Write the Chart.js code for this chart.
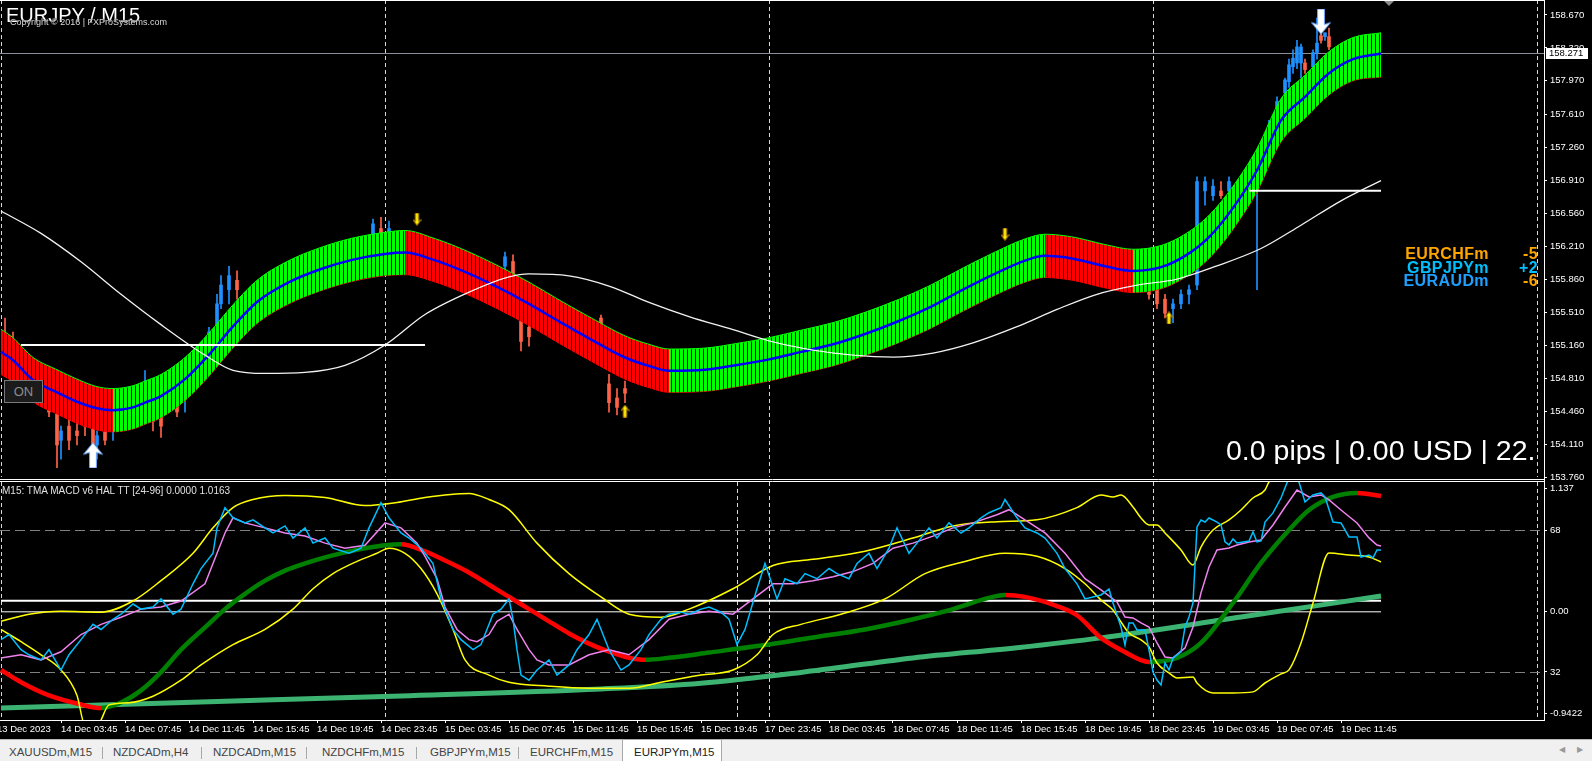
<!DOCTYPE html>
<html>
<head>
<meta charset="utf-8">
<title>EURJPY / M15</title>
<script src="https://cdn.jsdelivr.net/npm/chart.js"></script>
<style>
html, body { margin: 0; padding: 0; background: #000; }
body { width: 1592px; height: 761px; position: relative; overflow: hidden; font-family: "Liberation Sans", Arial, sans-serif; }
canvas { position: absolute; left: 0; }
#top { top: 0; width: 1592px; height: 482px; }
#bot { top: 482px; width: 1592px; height: 255px; }
.txt { position: absolute; white-space: nowrap; }
#title { left: 6px; top: 5px; font-size: 20px; line-height: 20px; color: #fff; }
#copy { left: 10px; top: 18px; font-size: 9px; line-height: 9px; color: #d8d8d8; text-shadow: 0 0 1px #000, 0 0 1px #000; }
#onbtn { left: 4px; top: 380px; width: 37px; height: 21px; border: 1px solid #7a7a7a; background: #1b1b1b; color: #8c8c8c; font-size: 13px; line-height: 21px; text-align: center; }
#pips { left: 1226px; top: 436px; width: 312px; overflow: hidden; font-size: 28.5px; line-height: 28px; color: #fff; }
.lg { position: absolute; white-space: nowrap; font-weight: bold; font-size: 16px; line-height: 15px; letter-spacing: 0.4px; }
#pane2 { left: 2px; top: 486px; font-size: 10px; line-height: 10px; color: #e0e0e0; }
#tabs { position: absolute; left: 0; top: 739px; width: 1592px; height: 22px; background: #f0f0f0; border-top: 1px solid #b8b8b8; }
.tab { position: absolute; top: 0; height: 22px; line-height: 24px; font-size: 11.5px; color: #444; box-sizing: border-box; white-space: nowrap; }
.tab.on { background: #fff; border: 1px solid #a8a8a8; border-bottom: none; top: -1px; height: 23px; color: #222; }
.sep { position: absolute; top: 7px; width: 1px; height: 12px; background: #a8a8a8; }
.scr { position: absolute; top: 5px; font-size: 8px; color: #999; }
</style>
</head>
<body>
<canvas id="top" width="1592" height="482"></canvas>
<canvas id="bot" width="1592" height="255"></canvas>

<div class="txt" id="title">EURJPY / M15</div>
<div class="txt" id="copy">Copyright © 2016 | FXProSystems.com</div>
<div class="txt" id="onbtn">ON</div>
<div class="txt" id="pips">0.0 pips | 0.00 USD | 22.</div>
<div class="lg" style="right:103px; top:246px; color:#ffa500">EURCHFm</div>
<div class="lg" style="right:54px; top:246px; color:#ffa500">-5</div>
<div class="lg" style="right:103px; top:260px; color:#00bfff">GBPJPYm</div>
<div class="lg" style="right:54px; top:260px; color:#00bfff">+2</div>
<div class="lg" style="right:103px; top:273px; color:#1ea0ff">EURAUDm</div>
<div class="lg" style="right:54px; top:273px; color:#ffa500">-6</div>
<div class="txt" id="pane2">M15: TMA MACD v6 HAL TT [24-96] 0.0000 1.0163</div>

<div id="tabs">
  <div class="tab" style="left:0; width:102px; padding-left:9px">XAUUSDm,M15</div>
  <div class="sep" style="left:102px"></div>
  <div class="tab" style="left:102px; width:99px; padding-left:11px">NZDCADm,H4</div>
  <div class="sep" style="left:201px"></div>
  <div class="tab" style="left:201px; width:105px; padding-left:12px">NZDCADm,M15</div>
  <div class="sep" style="left:306px"></div>
  <div class="tab" style="left:306px; width:110px; padding-left:16px">NZDCHFm,M15</div>
  <div class="sep" style="left:416px"></div>
  <div class="tab" style="left:416px; width:102px; padding-left:14px">GBPJPYm,M15</div>
  <div class="sep" style="left:518px"></div>
  <div class="tab" style="left:518px; width:104px; padding-left:12px">EURCHFm,M15</div>
  <div class="tab on" style="left:622px; width:100px; padding-left:11px">EURJPYm,M15</div>
  <div class="scr" style="left:1559px">◀</div>
  <div class="scr" style="left:1577px">▶</div>
</div>

<script>
// ---------- time axis (bar index, 4 px per M15 bar) ----------
var timeBars = [-1, 15, 31, 47, 63, 79, 95, 111, 127, 143, 159, 175, 191, 207, 223, 239, 255, 271, 287, 303, 319, 335]
var timeLabels = ['13 Dec 2023', '14 Dec 03:45', '14 Dec 07:45', '14 Dec 11:45', '14 Dec 15:45', '14 Dec 19:45',
    '14 Dec 23:45', '15 Dec 03:45', '15 Dec 07:45', '15 Dec 11:45', '15 Dec 15:45', '15 Dec 19:45',
    '17 Dec 23:45', '18 Dec 03:45', '18 Dec 07:45', '18 Dec 11:45', '18 Dec 15:45', '18 Dec 19:45',
    '18 Dec 23:45', '19 Dec 03:45', '19 Dec 07:45', '19 Dec 11:45']
var daySeps = [0, 96, 192, 288, 384]
var lowerSeps = [0, 96, 184, 192, 288, 384]
var shiftBar = 347

// ---------- price pane ----------
var priceTicks = [158.670, 158.320, 157.970, 157.610, 157.260, 156.910, 156.560, 156.210, 155.860, 155.510, 155.160, 154.810, 154.460, 154.110, 153.760]
var lastPrice = 158.271

var tmaBars = [0, 3, 8, 14, 19, 24, 28, 33, 36, 40, 46, 52, 58, 64, 72, 80, 88, 96, 101, 108, 116, 124, 132, 140, 148, 156, 162, 167, 176, 184, 192, 200, 208, 216, 224, 232, 240, 248, 256, 261, 268, 276, 283, 290, 296, 302, 308, 314, 320, 326, 332, 338, 345]
var tmaMid = [155.09, 155.00, 154.79, 154.66, 154.56, 154.49, 154.47, 154.50, 154.55, 154.62, 154.80, 155.06, 155.36, 155.62, 155.83, 155.97, 156.07, 156.13, 156.145, 156.07, 155.94, 155.78, 155.60, 155.40, 155.21, 155.03, 154.94, 154.89, 154.90, 154.95, 155.01, 155.09, 155.17, 155.28, 155.41, 155.56, 155.74, 155.91, 156.06, 156.11, 156.08, 156.00, 155.95, 155.99, 156.11, 156.31, 156.62, 157.02, 157.55, 157.80, 158.05, 158.20, 158.26]
var tmaUp = [155.33, 155.24, 155.03, 154.90, 154.80, 154.72, 154.70, 154.73, 154.78, 154.85, 155.03, 155.29, 155.59, 155.85, 156.06, 156.20, 156.30, 156.36, 156.38, 156.30, 156.17, 156.01, 155.83, 155.63, 155.44, 155.26, 155.17, 155.12, 155.13, 155.18, 155.24, 155.32, 155.40, 155.51, 155.64, 155.79, 155.97, 156.14, 156.29, 156.34, 156.31, 156.23, 156.18, 156.22, 156.34, 156.54, 156.85, 157.25, 157.78, 158.03, 158.28, 158.43, 158.48]
var tmaDn = [154.85, 154.77, 154.56, 154.43, 154.33, 154.26, 154.24, 154.27, 154.32, 154.39, 154.57, 154.83, 155.13, 155.39, 155.60, 155.74, 155.84, 155.90, 155.91, 155.84, 155.71, 155.55, 155.37, 155.17, 154.98, 154.80, 154.71, 154.66, 154.67, 154.72, 154.78, 154.86, 154.94, 155.05, 155.18, 155.33, 155.51, 155.68, 155.83, 155.88, 155.85, 155.77, 155.72, 155.76, 155.88, 156.08, 156.39, 156.79, 157.32, 157.57, 157.82, 157.97, 158.01]

var maBars = [0, 10, 20, 30, 40, 51, 58, 66, 76, 86, 96, 106, 117, 127, 132, 142, 152, 162, 172, 183, 193, 203, 213, 223, 233, 243, 254, 264, 274, 284, 294, 304, 315, 325, 335, 345]
var maVals = [156.587, 156.349, 156.047, 155.702, 155.379, 155.055, 154.894, 154.861, 154.872, 154.947, 155.163, 155.487, 155.724, 155.886, 155.918, 155.897, 155.789, 155.616, 155.465, 155.325, 155.195, 155.109, 155.055, 155.034, 155.077, 155.185, 155.357, 155.541, 155.702, 155.799, 155.864, 156.004, 156.188, 156.436, 156.695, 156.910]

var candleBar = [1, 3, 6, 9, 12, 14, 15, 17, 19, 21, 23, 24, 26, 28, 30, 36, 38, 40, 44, 46, 48, 50, 52, 54, 55, 57, 59, 93, 95, 97, 126, 128, 130, 132, 150, 152, 154, 156, 287, 289, 291, 293, 295, 297, 299, 301, 303, 305, 307, 314, 317, 319, 321, 322, 323, 324, 325, 326, 328, 329, 330, 331, 332]
var candleO = [155.20, 155.10, 154.95, 154.80, 154.65, 154.45, 154.15, 154.30, 154.25, 154.35, 154.29, 154.10, 154.25, 154.30, 154.35, 154.55, 154.50, 154.40, 154.55, 154.60, 154.75, 154.95, 155.10, 155.35, 155.60, 155.75, 155.85, 156.25, 156.40, 156.35, 156.00, 156.05, 155.60, 155.35, 155.45, 154.75, 154.60, 154.70, 155.85, 155.75, 155.65, 155.55, 155.60, 155.70, 155.80, 156.80, 156.75, 156.80, 156.80, 156.80, 157.30, 157.50, 157.84, 157.96, 158.12, 158.16, 158.16, 158.16, 158.12, 158.27, 158.45, 158.44, 158.44]
var candleH = [155.45, 155.30, 155.05, 154.90, 154.75, 154.55, 154.30, 154.45, 154.35, 154.45, 154.40, 154.25, 154.35, 154.45, 154.45, 154.89, 154.60, 154.55, 154.70, 154.75, 155.00, 155.15, 155.35, 155.70, 155.90, 156.00, 155.95, 156.50, 156.52, 156.48, 156.15, 156.12, 155.70, 155.45, 155.48, 154.85, 154.70, 154.78, 155.90, 155.80, 155.70, 155.65, 155.75, 155.80, 156.95, 156.95, 156.92, 156.90, 156.95, 156.90, 157.55, 157.80, 158.00, 158.20, 158.30, 158.40, 158.36, 158.20, 158.30, 158.64, 158.52, 158.48, 158.53]
var candleL = [155.00, 154.90, 154.70, 154.55, 154.40, 153.86, 153.95, 154.05, 154.10, 154.20, 153.92, 153.95, 154.10, 154.15, 154.25, 154.50, 154.25, 154.18, 154.40, 154.45, 154.70, 154.90, 155.05, 155.30, 155.55, 155.60, 155.65, 156.20, 156.30, 156.25, 155.90, 155.80, 155.10, 155.15, 155.20, 154.45, 154.42, 154.55, 155.65, 155.55, 155.45, 155.40, 155.55, 155.60, 155.75, 156.65, 156.70, 156.72, 156.75, 155.75, 157.25, 157.45, 157.80, 157.90, 158.05, 158.10, 158.00, 158.05, 158.10, 158.20, 158.37, 158.40, 158.30]
var candleC = [155.05, 154.95, 154.75, 154.60, 154.45, 154.10, 154.25, 154.15, 154.20, 154.30, 154.05, 154.20, 154.15, 154.40, 154.30, 154.75, 154.35, 154.30, 154.45, 154.70, 154.95, 155.10, 155.30, 155.60, 155.80, 155.90, 155.75, 156.45, 156.35, 156.40, 156.10, 155.85, 155.20, 155.25, 155.25, 154.55, 154.50, 154.65, 155.70, 155.60, 155.50, 155.60, 155.70, 155.75, 156.90, 156.90, 156.85, 156.75, 156.90, 156.85, 157.50, 157.75, 157.98, 158.14, 158.21, 158.33, 158.33, 158.09, 158.27, 158.37, 158.40, 158.48, 158.33]

var hlineFrom = [5, 312]
var hlineTo = [106, 345]
var hlinePrice = [155.163, 156.802]

var arrowBars = [23, 330, 104, 156, 251, 292]
var arrowPrices = [153.99, 158.60, 156.50, 154.46, 156.34, 155.45]
var arrowKinds = ['bigUp', 'bigDown', 'down', 'up', 'down', 'up']

// ---------- oscillator pane ----------
var oscTicks = [1.137, 0.756, 0, -0.556, -0.9422]
var oscTickLabels = ['1.137', '68', '0.00', '32', '-0.9422']
var oscDashed = [0.756, -0.556]
var levelBars = [0, 345]
var levelHigh = [0.103, 0.103]
var levelZero = [0, 0]

var cyanBars = [0, 2, 5, 7, 10, 12, 15, 17, 20, 23, 25, 28, 30, 33, 35, 38, 40, 43, 45, 48, 50, 53, 54, 56, 58, 61, 63, 66, 68, 71, 73, 76, 78, 81, 83, 87, 90, 92, 95, 97, 100, 102, 105, 108, 110, 113, 115, 118, 120, 123, 125, 127, 128, 129, 130, 132, 134, 137, 139, 142, 144, 147, 149, 152, 155, 157, 160, 162, 165, 167, 170, 172, 175, 177, 180, 182, 184, 186, 189, 191, 194, 196, 199, 201, 204, 207, 209, 212, 214, 217, 219, 222, 224, 227, 229, 232, 234, 237, 240, 242, 245, 247, 250, 251, 254, 256, 259, 261, 264, 266, 269, 271, 275, 277, 278, 280, 281, 282, 283, 284, 286, 287, 288, 289, 290, 291, 292, 293, 295, 296, 297, 298, 299, 300, 301, 302, 304, 305, 306, 307, 308, 309, 312, 313, 314, 315, 316, 318, 320, 322, 324, 326, 328, 330, 331, 333, 335, 337, 339, 340, 342, 343, 344, 345]
var cyanVals = [-0.257, -0.210, -0.350, -0.397, -0.444, -0.350, -0.538, -0.397, -0.257, -0.116, -0.163, -0.069, -0.022, 0.072, 0.025, 0.044, 0.119, -0.022, 0.025, 0.259, 0.400, 0.541, 0.776, 0.963, 0.869, 0.822, 0.850, 0.776, 0.729, 0.794, 0.682, 0.776, 0.635, 0.682, 0.588, 0.541, 0.588, 0.776, 1.010, 0.869, 0.729, 0.682, 0.588, 0.447, 0.119, -0.163, -0.257, -0.350, -0.303, -0.022, 0.025, 0.119, -0.069, -0.350, -0.585, -0.632, -0.538, -0.444, -0.585, -0.491, -0.350, -0.210, -0.069, -0.350, -0.538, -0.491, -0.350, -0.210, -0.069, -0.022, -0.003, -0.022, 0.025, 0.044, -0.003, -0.069, -0.303, -0.163, 0.213, 0.447, 0.119, 0.306, 0.259, 0.353, 0.306, 0.400, 0.353, 0.306, 0.447, 0.541, 0.400, 0.588, 0.776, 0.541, 0.635, 0.776, 0.682, 0.822, 0.729, 0.776, 0.869, 0.916, 0.963, 1.038, 0.869, 0.776, 0.729, 0.682, 0.541, 0.400, 0.259, 0.119, 0.156, 0.211, 0.082, -0.140, -0.306, -0.103, -0.103, -0.168, -0.168, -0.352, -0.556, -0.630, -0.676, -0.473, -0.537, -0.426, -0.371, -0.140, -0.048, 0.082, 0.785, 0.849, 0.830, 0.867, 0.830, 0.803, 0.646, 0.618, 0.673, 0.636, 0.655, 0.738, 0.646, 0.655, 0.830, 0.914, 1.052, 1.24, 1.26, 1.015, 1.080, 1.099, 1.062, 0.830, 0.821, 0.692, 0.692, 0.507, 0.525, 0.498, 0.572, 0.572]

var violetBars = [0, 5, 10, 15, 20, 25, 30, 35, 40, 45, 51, 53, 56, 58, 61, 66, 71, 76, 81, 86, 91, 96, 100, 104, 106, 109, 111, 114, 117, 119, 122, 124, 127, 129, 132, 134, 137, 142, 147, 152, 157, 162, 167, 172, 177, 183, 188, 193, 198, 203, 208, 213, 218, 223, 228, 233, 238, 243, 249, 252, 256, 261, 266, 271, 275, 279, 281, 283, 285, 287, 289, 291, 293, 296, 298, 300, 302, 304, 307, 309, 312, 315, 318, 321, 324, 327, 330, 332, 335, 339, 342, 344, 345]
var violetVals = [-0.426, -0.397, -0.444, -0.369, -0.210, -0.116, -0.050, 0.025, 0.044, 0.100, 0.259, 0.447, 0.729, 0.869, 0.822, 0.776, 0.729, 0.700, 0.635, 0.588, 0.616, 0.822, 0.776, 0.635, 0.513, 0.306, 0.044, -0.163, -0.257, -0.276, -0.210, -0.088, -0.022, -0.163, -0.350, -0.444, -0.491, -0.491, -0.397, -0.350, -0.397, -0.257, -0.069, -0.022, 0.006, -0.022, 0.119, 0.259, 0.259, 0.287, 0.325, 0.372, 0.447, 0.588, 0.635, 0.700, 0.776, 0.822, 0.897, 0.944, 0.850, 0.729, 0.541, 0.306, 0.202, 0.091, -0.048, -0.057, -0.103, -0.140, -0.288, -0.417, -0.426, -0.334, -0.140, 0.175, 0.415, 0.572, 0.590, 0.618, 0.646, 0.664, 0.803, 0.969, 1.126, 1.062, 1.080, 1.034, 0.941, 0.821, 0.683, 0.618, 0.608]

var bandUpBars = [0, 7, 15, 25, 33, 40, 48, 53, 58, 63, 71, 81, 91, 99, 106, 117, 122, 127, 134, 142, 150, 157, 165, 172, 183, 193, 203, 216, 228, 238, 249, 259, 269, 275, 278, 280, 283, 285, 287, 289, 291, 295, 298, 300, 303, 307, 310, 313, 316, 317, 325, 335, 345]
var bandUpVals = [-0.088, -0.022, 0.006, -0.003, 0.100, 0.288, 0.541, 0.776, 0.963, 1.038, 1.076, 1.057, 0.982, 1.010, 1.057, 1.094, 1.038, 0.944, 0.635, 0.353, 0.137, -0.022, -0.050, 0.025, 0.213, 0.428, 0.485, 0.560, 0.682, 0.794, 0.832, 0.850, 0.963, 1.080, 1.062, 1.080, 0.969, 0.867, 0.803, 0.803, 0.729, 0.572, 0.433, 0.599, 0.756, 0.849, 0.941, 1.052, 1.126, 1.200, 1.35, 1.42, 1.45]

var bandDnBars = [0, 5, 10, 15, 19, 21, 24, 27, 32, 38, 45, 50, 58, 66, 73, 78, 83, 89, 94, 97, 101, 105, 109, 113, 116, 122, 127, 137, 147, 157, 165, 175, 183, 189, 193, 200, 210, 221, 231, 241, 251, 259, 266, 271, 275, 278, 280, 282, 285, 287, 289, 292, 294, 298, 299, 303, 308, 313, 316, 320, 322, 325, 328, 332, 337, 342, 345]
var bandDnVals = [-0.163, -0.276, -0.397, -0.538, -0.773, -1.05, -1.05, -0.86, -0.84, -0.78, -0.632, -0.491, -0.303, -0.163, 0.025, 0.213, 0.353, 0.466, 0.541, 0.588, 0.541, 0.400, 0.166, -0.163, -0.444, -0.585, -0.651, -0.688, -0.707, -0.707, -0.651, -0.585, -0.538, -0.397, -0.210, -0.116, -0.022, 0.119, 0.353, 0.466, 0.541, 0.513, 0.400, 0.259, 0.109, 0.017, -0.094, -0.196, -0.260, -0.325, -0.473, -0.565, -0.611, -0.602, -0.658, -0.750, -0.750, -0.740, -0.658, -0.574, -0.537, -0.288, 0.082, 0.544, 0.525, 0.507, 0.461]

var signalBars = [0, 5, 12, 20, 25, 30, 35, 40, 45, 51, 56, 61, 66, 71, 76, 81, 86, 91, 96, 100, 106, 111, 117, 122, 127, 132, 137, 142, 147, 152, 157, 161, 167, 177, 190, 203, 216, 228, 238, 246, 251, 256, 264, 269, 275, 280, 287, 294, 300, 308, 315, 322, 327, 333, 339, 345]
var signalVals = [-0.538, -0.651, -0.773, -0.857, -0.890, -0.838, -0.726, -0.557, -0.350, -0.144, 0.025, 0.166, 0.288, 0.381, 0.447, 0.503, 0.550, 0.588, 0.616, 0.625, 0.559, 0.475, 0.363, 0.250, 0.138, 0.025, -0.088, -0.200, -0.294, -0.369, -0.425, -0.444, -0.425, -0.377, -0.312, -0.237, -0.163, -0.069, 0.025, 0.119, 0.156, 0.138, 0.053, -0.032, -0.241, -0.352, -0.463, -0.426, -0.288, 0.082, 0.452, 0.757, 0.941, 1.062, 1.099, 1.071]

var slowBars = [0, 50, 100, 150, 175, 200, 228, 254, 275, 310, 345]
var slowVals = [-0.889, -0.833, -0.778, -0.713, -0.660, -0.560, -0.426, -0.332, -0.241, -0.048, 0.146]

// ---------- helpers ----------
var family = '"Liberation Sans", Arial, sans-serif'
Chart.defaults.font.family = family

function pts(bars, vals) {
    return bars.map((b, i) => ({ x: b, y: vals[i] }))
}

/**
 * Vertical stripe pattern: 3 px colour + 1 px gap, like the MT4 histogram band
 */
function stripe(color) {
    var c = document.createElement('canvas')
    c.width = 4
    c.height = 4
    var g = c.getContext('2d')
    g.fillStyle = '#000'
    g.fillRect(0, 0, 4, 4)
    g.fillStyle = color
    g.fillRect(0, 0, 3, 4)
    return g.createPattern(c, 'repeat')
}

function arrow(w, h, fill, edge, down) {
    var c = document.createElement('canvas')
    c.width = w
    c.height = h
    var g = c.getContext('2d')
    if (down) { g.translate(0, h); g.scale(1, -1) }
    var hw = w / 2, head = Math.round(h * 0.48), sh = Math.max(1.5, w * 0.17)
    g.beginPath()
    g.moveTo(hw, 0.5)
    g.lineTo(w - 0.5, head)
    g.lineTo(hw + sh, head - 2)
    g.lineTo(hw + sh, h - 0.5)
    g.lineTo(hw - sh, h - 0.5)
    g.lineTo(hw - sh, head - 2)
    g.lineTo(0.5, head)
    g.closePath()
    g.fillStyle = fill
    g.fill()
    g.strokeStyle = edge
    g.lineWidth = 1
    g.stroke()
    return c
}

var arrowImg = {
    bigUp: arrow(20, 26, '#ffffff', '#6fa8ff', false),
    bigDown: arrow(20, 26, '#ffffff', '#6fa8ff', true),
    up: arrow(9, 13, '#ffff00', '#c08000', false),
    down: arrow(9, 13, '#ffff00', '#c08000', true)
}

var greenStripe = stripe('#00ff00')
var redStripe = stripe('#ff0000')

function timeAxis() {
    return {
        type: 'linear', min: -0.25, max: 385.75, position: 'bottom', offset: false,
        afterBuildTicks: s => { s.ticks = timeBars.map(v => ({ value: v })) },
        afterFit: s => { s.height = 17; s.paddingLeft = 0; s.paddingRight = 0 },
        ticks: { color: '#fff', font: { size: 9.5 }, padding: 1, maxRotation: 0, autoSkip: false, align: 'start',
            callback: (v, i) => timeLabels[i] },
        grid: { drawOnChartArea: false, drawTicks: true, tickLength: 3, color: '#fff', offset: false },
        border: { display: true, color: '#fff' }
    }
}

function rightAxis(min, max, tickVals, fmt) {
    return {
        type: 'linear', position: 'right', min: min, max: max,
        afterBuildTicks: s => { s.ticks = tickVals.map(v => ({ value: v })) },
        afterFit: s => { s.width = 48; s.paddingTop = 0; s.paddingBottom = 0 },
        ticks: { color: '#fff', font: { size: 9.5 }, padding: 3, autoSkip: false, callback: fmt },
        grid: { drawOnChartArea: false, drawTicks: true, tickLength: 3, color: '#fff' },
        border: { display: true, color: '#fff' }
    }
}

/**
 * Dashed period separators and dashed levels behind the data
 */
var guides = {
    id: 'guides',
    beforeDatasetsDraw(chart, args, opts) {
        var ctx = chart.ctx, a = chart.chartArea, x = chart.scales.x, y = chart.scales.y
        ctx.save()
        ctx.lineWidth = 1
        ctx.strokeStyle = '#d8d8d8'
        ctx.setLineDash([4, 3])
        for (var b of opts.seps) {
            var px = Math.round(x.getPixelForValue(b)) + 0.5
            ctx.beginPath()
            ctx.moveTo(px, a.top)
            ctx.lineTo(px, a.bottom)
            ctx.stroke()
        }
        ctx.strokeStyle = '#808080'
        ctx.setLineDash([10, 5])
        for (var v of (opts.levels || [])) {
            var py = Math.round(y.getPixelForValue(v)) + 0.5
            ctx.beginPath()
            ctx.moveTo(a.left, py)
            ctx.lineTo(a.right, py)
            ctx.stroke()
        }
        if (opts.priceLine) {
            var pl = Math.round(y.getPixelForValue(opts.priceLine)) + 0.5
            ctx.setLineDash([])
            ctx.strokeStyle = '#8a909a'
            ctx.beginPath()
            ctx.moveTo(a.left, pl)
            ctx.lineTo(a.right, pl)
            ctx.stroke()
        }
        ctx.restore()
    }
}

/**
 * Frame lines, the bid price box and the chart shift marker
 */
var frame = {
    id: 'frame',
    afterDraw(chart) {
        var ctx = chart.ctx, a = chart.chartArea, y = chart.scales.y, x = chart.scales.x
        ctx.save()
        ctx.strokeStyle = '#fff'
        ctx.lineWidth = 1
        ctx.beginPath()
        ctx.moveTo(0, 0.5); ctx.lineTo(a.right, 0.5)
        ctx.moveTo(0, 479.5); ctx.lineTo(a.right + 1, 479.5)
        ctx.moveTo(0, 481.5); ctx.lineTo(a.right + 1, 481.5)
        ctx.moveTo(a.right + 0.5, a.bottom); ctx.lineTo(a.right + 0.5, 482)
        ctx.stroke()
        var py = Math.round(y.getPixelForValue(lastPrice))
        ctx.fillStyle = '#fff'
        ctx.fillRect(a.right + 2, py - 5, 42, 11)
        ctx.fillStyle = '#000'
        ctx.font = '9.5px ' + family
        ctx.textBaseline = 'middle'
        ctx.fillText(lastPrice.toFixed(3), a.right + 5, py + 0.5)
        var sx = x.getPixelForValue(shiftBar)
        ctx.fillStyle = '#8a8a8a'
        ctx.beginPath()
        ctx.moveTo(sx - 5, 1); ctx.lineTo(sx + 5, 1); ctx.lineTo(sx, 6)
        ctx.closePath()
        ctx.fill()
        ctx.restore()
    }
}

var common = {
    responsive: false,
    maintainAspectRatio: false,
    animation: false,
    events: [],
    elements: { point: { radius: 0 }, line: { tension: 0 } },
    plugins: { legend: { display: false }, tooltip: { enabled: false } }
}

// ---------- price chart ----------
var bodyColors = candleC.map((c, i) => c >= candleO[i] ? '#1e90ff' : '#ff6347')

// the price pane shares the time scale but shows no labels of its own
var topX = { type: 'linear', min: -0.25, max: 385.75, display: false, offset: false,
    grid: { offset: false }, ticks: { display: false },
    afterBuildTicks: s => { s.ticks = timeBars.map(v => ({ value: v })) } }

new Chart(document.getElementById('top'), {
    type: 'line',
    data: {
        datasets: [
            { label: 'signals', data: pts(arrowBars, arrowPrices), showLine: false, order: 0,
              pointRadius: 10, pointStyle: arrowKinds.map(k => arrowImg[k]) },
            { label: 'level1', data: [{ x: hlineFrom[0], y: hlinePrice[0] }, { x: hlineTo[0], y: hlinePrice[0] }],
              borderColor: '#fff', borderWidth: 2, order: 1 },
            { label: 'level2', data: [{ x: hlineFrom[1], y: hlinePrice[1] }, { x: hlineTo[1], y: hlinePrice[1] }],
              borderColor: '#fff', borderWidth: 2, order: 1 },
            { label: 'MA', data: pts(maBars, maVals), borderColor: '#f2f2f2', borderWidth: 1.3,
              cubicInterpolationMode: 'monotone', order: 2 },
            { label: 'TMA', data: pts(tmaBars, tmaMid), borderColor: '#0000ff', borderWidth: 2.5,
              cubicInterpolationMode: 'monotone', order: 3 },
            { label: 'TMA upper', data: pts(tmaBars, tmaUp), borderColor: '#00ff00', borderWidth: 1,
              cubicInterpolationMode: 'monotone', order: 4, fill: '+1', backgroundColor: greenStripe,
              segment: { backgroundColor: c => tmaMid[c.p1DataIndex] >= tmaMid[c.p0DataIndex] ? greenStripe : redStripe } },
            { label: 'TMA lower', data: pts(tmaBars, tmaDn), borderColor: '#ff0000', borderWidth: 1,
              cubicInterpolationMode: 'monotone', order: 4 },
            { type: 'bar', label: 'bodies', order: 6, grouped: false, categoryPercentage: 1, barPercentage: 1,
              maxBarThickness: 3, backgroundColor: bodyColors,
              data: candleBar.map((b, i) => ({ x: b, y: [candleO[i], candleC[i]] })) },
            { type: 'bar', label: 'wicks', order: 7, grouped: false, categoryPercentage: 1, barPercentage: 1,
              maxBarThickness: 1, backgroundColor: bodyColors,
              data: candleBar.map((b, i) => ({ x: b, y: [candleL[i], candleH[i]] })) }
        ]
    },
    options: Object.assign({}, common, {
        layout: { autoPadding: false, padding: { left: 0, right: 0, top: 0, bottom: 5 } },
        scales: {
            x: topX,
            y: rightAxis(153.76, 158.829, priceTicks, v => v.toFixed(3))
        },
        plugins: Object.assign({}, common.plugins, { guides: { seps: daySeps, priceLine: lastPrice } })
    }),
    plugins: [guides, frame]
})

// ---------- oscillator chart ----------
new Chart(document.getElementById('bot'), {
    type: 'line',
    data: {
        datasets: [
            { label: 'fast', data: pts(cyanBars, cyanVals), borderColor: '#00bfff', borderWidth: 1.5, order: 1 },
            { label: 'slow', data: pts(violetBars, violetVals), borderColor: '#ee82ee', borderWidth: 1.5, order: 2 },
            { label: 'band up', data: pts(bandUpBars, bandUpVals), borderColor: '#ffff00', borderWidth: 1.5,
              cubicInterpolationMode: 'monotone', order: 3 },
            { label: 'band down', data: pts(bandDnBars, bandDnVals), borderColor: '#ffff00', borderWidth: 1.5,
              cubicInterpolationMode: 'monotone', order: 3 },
            { label: 'signal', data: pts(signalBars, signalVals), borderWidth: 4.5, borderColor: '#008000',
              cubicInterpolationMode: 'monotone', order: 4,
              segment: { borderColor: c => c.p1.parsed.y >= c.p0.parsed.y ? '#008000' : '#ff0000' } },
            { label: 'trend', data: pts(slowBars, slowVals), borderColor: '#3cb371', borderWidth: 5,
              cubicInterpolationMode: 'monotone', order: 5 },
            { label: 'zero hi', data: pts(levelBars, levelHigh), borderColor: '#fff', borderWidth: 2, order: 6 },
            { label: 'zero', data: pts(levelBars, levelZero), borderColor: '#fff', borderWidth: 1, order: 6 }
        ]
    },
    options: Object.assign({}, common, {
        layout: { autoPadding: false, padding: { left: 0, right: 0, top: 0, bottom: 0 } },
        scales: {
            x: timeAxis(),
            y: rightAxis(-1.0, 1.2, oscTicks, (v, i) => oscTickLabels[i])
        },
        plugins: Object.assign({}, common.plugins, { guides: { seps: lowerSeps, levels: oscDashed } })
    }),
    plugins: [guides]
})
</script>
</body>
</html>
